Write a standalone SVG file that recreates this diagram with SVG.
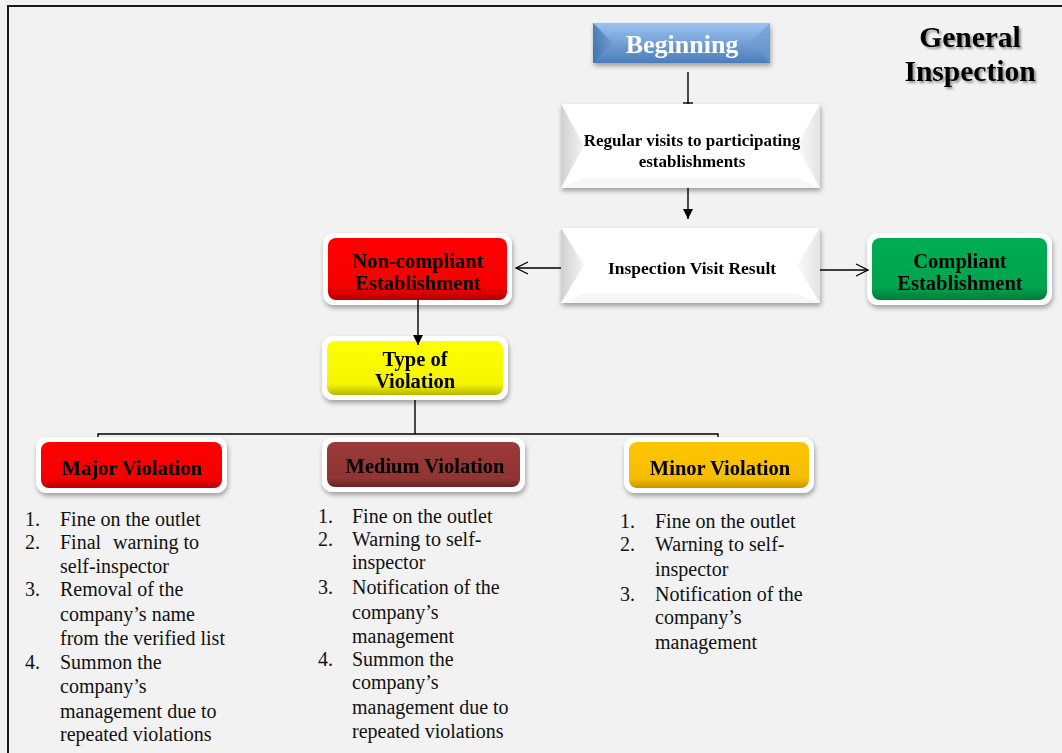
<svg xmlns="http://www.w3.org/2000/svg" width="1062" height="753" viewBox="0 0 1062 753">
<defs>
<filter id="sh" x="-10%" y="-20%" width="125%" height="150%"><feGaussianBlur in="SourceAlpha" stdDeviation="2.5"/><feOffset dx="1" dy="3"/><feComponentTransfer><feFuncA type="linear" slope="0.35"/></feComponentTransfer><feMerge><feMergeNode/><feMergeNode in="SourceGraphic"/></feMerge></filter>
<filter id="tsh" x="-10%" y="-20%" width="125%" height="150%"><feGaussianBlur in="SourceAlpha" stdDeviation="1.2"/><feOffset dx="1.5" dy="2"/><feComponentTransfer><feFuncA type="linear" slope="0.4"/></feComponentTransfer><feMerge><feMergeNode/><feMergeNode in="SourceGraphic"/></feMerge></filter>
<linearGradient id="blue" x1="0" y1="0" x2="0" y2="1"><stop offset="0" stop-color="#9cc2ef"/><stop offset="1" stop-color="#4a7ebb"/></linearGradient>
<linearGradient id="blueL" x1="0" y1="0" x2="1" y2="0"><stop offset="0" stop-color="#3d6fa8"/><stop offset="1" stop-color="#6d9bd4"/></linearGradient>
<linearGradient id="greyL" x1="0" y1="0" x2="1" y2="0"><stop offset="0" stop-color="#d0d0d0"/><stop offset="1" stop-color="#f4f4f4"/></linearGradient>
<linearGradient id="greyR" x1="1" y1="0" x2="0" y2="0"><stop offset="0" stop-color="#e4e4e4"/><stop offset="1" stop-color="#fafafa"/></linearGradient>
<linearGradient id="red" x1="0" y1="0" x2="0" y2="1"><stop offset="0" stop-color="#ff0000"/><stop offset="0.8" stop-color="#f40000"/><stop offset="1" stop-color="#b30000"/></linearGradient>
<linearGradient id="green" x1="0" y1="0" x2="0" y2="1"><stop offset="0" stop-color="#00ad52"/><stop offset="0.8" stop-color="#00a44d"/><stop offset="1" stop-color="#007a39"/></linearGradient>
<linearGradient id="yellow" x1="0" y1="0" x2="0" y2="1"><stop offset="0" stop-color="#ffff00"/><stop offset="0.8" stop-color="#f4f400"/><stop offset="1" stop-color="#b8b800"/></linearGradient>
<linearGradient id="brown" x1="0" y1="0" x2="0" y2="1"><stop offset="0" stop-color="#9a3a38"/><stop offset="0.8" stop-color="#913533"/><stop offset="1" stop-color="#6a2523"/></linearGradient>
<linearGradient id="amber" x1="0" y1="0" x2="0" y2="1"><stop offset="0" stop-color="#ffc600"/><stop offset="0.8" stop-color="#f5bd00"/><stop offset="1" stop-color="#c49400"/></linearGradient>
<marker id="af" viewBox="0 0 10 10" refX="10" refY="5" markerWidth="10" markerHeight="10" markerUnits="userSpaceOnUse" orient="auto"><path d="M0,0 L10,5 L0,10 z" fill="#000"/></marker>
<marker id="ao" viewBox="0 0 14 14" refX="13" refY="7" markerWidth="14" markerHeight="14" markerUnits="userSpaceOnUse" orient="auto"><path d="M1,1 L13,7 L1,13" fill="none" stroke="#000" stroke-width="1.3"/></marker>
</defs>
<style>
.t{font-family:"Liberation Serif","Times New Roman",serif;font-weight:bold;fill:#000;text-anchor:middle}
.l{font-family:"Liberation Serif","Times New Roman",serif;font-size:20px;fill:#111}
.c{stroke:#000;stroke-width:1.4;fill:none}
</style>
<rect width="1062" height="753" fill="#f2f2f2"/>
<rect x="8" y="6" width="1070" height="760" fill="none" stroke="#1a1a1a" stroke-width="2"/>
<g id="title"><text class="t" font-size="29.5" x="970" y="47" filter="url(#tsh)">General</text><text class="t" font-size="29.5" x="970" y="81" filter="url(#tsh)">Inspection</text></g>

<g id="beginning" filter="url(#sh)">
<rect x="593" y="23" width="177" height="40" fill="url(#blue)"/>
<polygon points="593,23 613,43 593,63" fill="url(#blueL)" opacity="0.8"/>
<polygon points="770,23 750,43 770,63" fill="#6e9ad0" opacity="0.6"/>
<text class="t" font-size="26" x="682" y="53" style="fill:#fff">Beginning</text>
</g>

<g id="regular" filter="url(#sh)">
<rect x="561" y="104" width="259" height="84" fill="#fff"/>
<polygon points="561,104 584,146 561,188" fill="url(#greyL)"/>
<polygon points="820,104 797,146 820,188" fill="url(#greyR)"/>
<polygon points="561,188 584,178 797,178 820,188" fill="#f6f6f6"/>
<text class="t" font-size="17" x="692" y="146">Regular visits to participating</text>
<text class="t" font-size="17" x="692" y="167">establishments</text>
</g>

<g id="result" filter="url(#sh)">
<rect x="561" y="228" width="259" height="75" fill="#fff"/>
<polygon points="561,228 584,265 561,303" fill="url(#greyL)"/>
<polygon points="820,228 797,265 820,303" fill="url(#greyR)"/>
<polygon points="561,303 584,294 797,294 820,303" fill="#f6f6f6"/>
<text class="t" font-size="17.5" x="692" y="274">Inspection Visit Result</text>
</g>

<g id="noncompliant" filter="url(#sh)">
<rect x="323" y="233" width="189" height="72" rx="11" fill="#fff"/>
<rect x="328" y="238" width="179" height="62" rx="8" fill="url(#red)"/>
<text class="t" font-size="20.5" x="418" y="268">Non-compliant</text>
<text class="t" font-size="20.5" x="418" y="290">Establishment</text>
</g>

<g id="compliant" filter="url(#sh)">
<rect x="867" y="233" width="185" height="72" rx="11" fill="#fff"/>
<rect x="872" y="238" width="175" height="62" rx="8" fill="url(#green)"/>
<text class="t" font-size="20.5" x="960" y="268">Compliant</text>
<text class="t" font-size="20.5" x="960" y="290">Establishment</text>
</g>

<g id="type" filter="url(#sh)">
<rect x="322" y="336" width="186" height="64" rx="11" fill="#fff"/>
<rect x="327" y="341" width="176" height="54" rx="8" fill="url(#yellow)"/>
<text class="t" font-size="20.5" x="415" y="366">Type of</text>
<text class="t" font-size="20.5" x="415" y="388">Violation</text>
</g>

<g id="major" filter="url(#sh)">
<rect x="36" y="437" width="191" height="56" rx="11" fill="#fff"/>
<rect x="41" y="442" width="181" height="46" rx="8" fill="url(#red)"/>
<text class="t" font-size="20.5" x="132" y="475">Major Violation</text>
</g>

<g id="medium" filter="url(#sh)">
<rect x="322" y="437" width="203" height="55" rx="11" fill="#fff"/>
<rect x="327" y="442" width="193" height="45" rx="8" fill="url(#brown)"/>
<text class="t" font-size="20.5" x="425" y="473">Medium Violation</text>
</g>

<g id="minor" filter="url(#sh)">
<rect x="624" y="437" width="190" height="56" rx="11" fill="#fff"/>
<rect x="629" y="442" width="180" height="46" rx="8" fill="url(#amber)"/>
<text class="t" font-size="20.5" x="720" y="475">Minor Violation</text>
</g>

<g id="connectors">
<line class="c" x1="688" y1="72" x2="688" y2="104"/>
<line class="c" x1="683" y1="103" x2="693" y2="103"/>
<line class="c" x1="688" y1="188" x2="688" y2="219" marker-end="url(#af)"/>
<line class="c" x1="561" y1="268" x2="516" y2="268" marker-end="url(#ao)"/>
<line class="c" x1="820" y1="270" x2="868" y2="270" marker-end="url(#ao)"/>
<line class="c" x1="418" y1="300" x2="418" y2="345" marker-end="url(#af)"/>
<line class="c" x1="415" y1="400" x2="415" y2="434"/>
<polyline class="c" points="98,437 98,434 718,434 718,437"/>
</g>

<g id="list-major">
<text class="l" x="25" y="526">1.</text><text class="l" x="60" y="526">Fine on the outlet</text>
<text class="l" x="25" y="549">2.</text><text class="l" x="60" y="549">Final<tspan x="113">warning to</tspan></text>
<text class="l" x="60" y="573">self-inspector</text>
<text class="l" x="25" y="596">3.</text><text class="l" x="60" y="596">Removal of the</text>
<text class="l" x="60" y="621">company’s name</text>
<text class="l" x="60" y="645">from the verified list</text>
<text class="l" x="25" y="669">4.</text><text class="l" x="60" y="669">Summon the</text>
<text class="l" x="60" y="693">company’s</text>
<text class="l" x="60" y="718">management due to</text>
<text class="l" x="60" y="741">repeated violations</text>
</g>
<g id="list-medium">
<text class="l" x="318" y="523">1.</text><text class="l" x="352" y="523">Fine on the outlet</text>
<text class="l" x="318" y="546">2.</text><text class="l" x="352" y="546">Warning to self-</text>
<text class="l" x="352" y="569">inspector</text>
<text class="l" x="318" y="594">3.</text><text class="l" x="352" y="594">Notification of the</text>
<text class="l" x="352" y="619">company’s</text>
<text class="l" x="352" y="643">management</text>
<text class="l" x="318" y="666">4.</text><text class="l" x="352" y="666">Summon the</text>
<text class="l" x="352" y="689">company’s</text>
<text class="l" x="352" y="714">management due to</text>
<text class="l" x="352" y="738">repeated violations</text>
</g>
<g id="list-minor">
<text class="l" x="620" y="528">1.</text><text class="l" x="655" y="528">Fine on the outlet</text>
<text class="l" x="620" y="551">2.</text><text class="l" x="655" y="551">Warning to self-</text>
<text class="l" x="655" y="576">inspector</text>
<text class="l" x="620" y="601">3.</text><text class="l" x="655" y="601">Notification of the</text>
<text class="l" x="655" y="624">company’s</text>
<text class="l" x="655" y="649">management</text>
</g>
</svg>
